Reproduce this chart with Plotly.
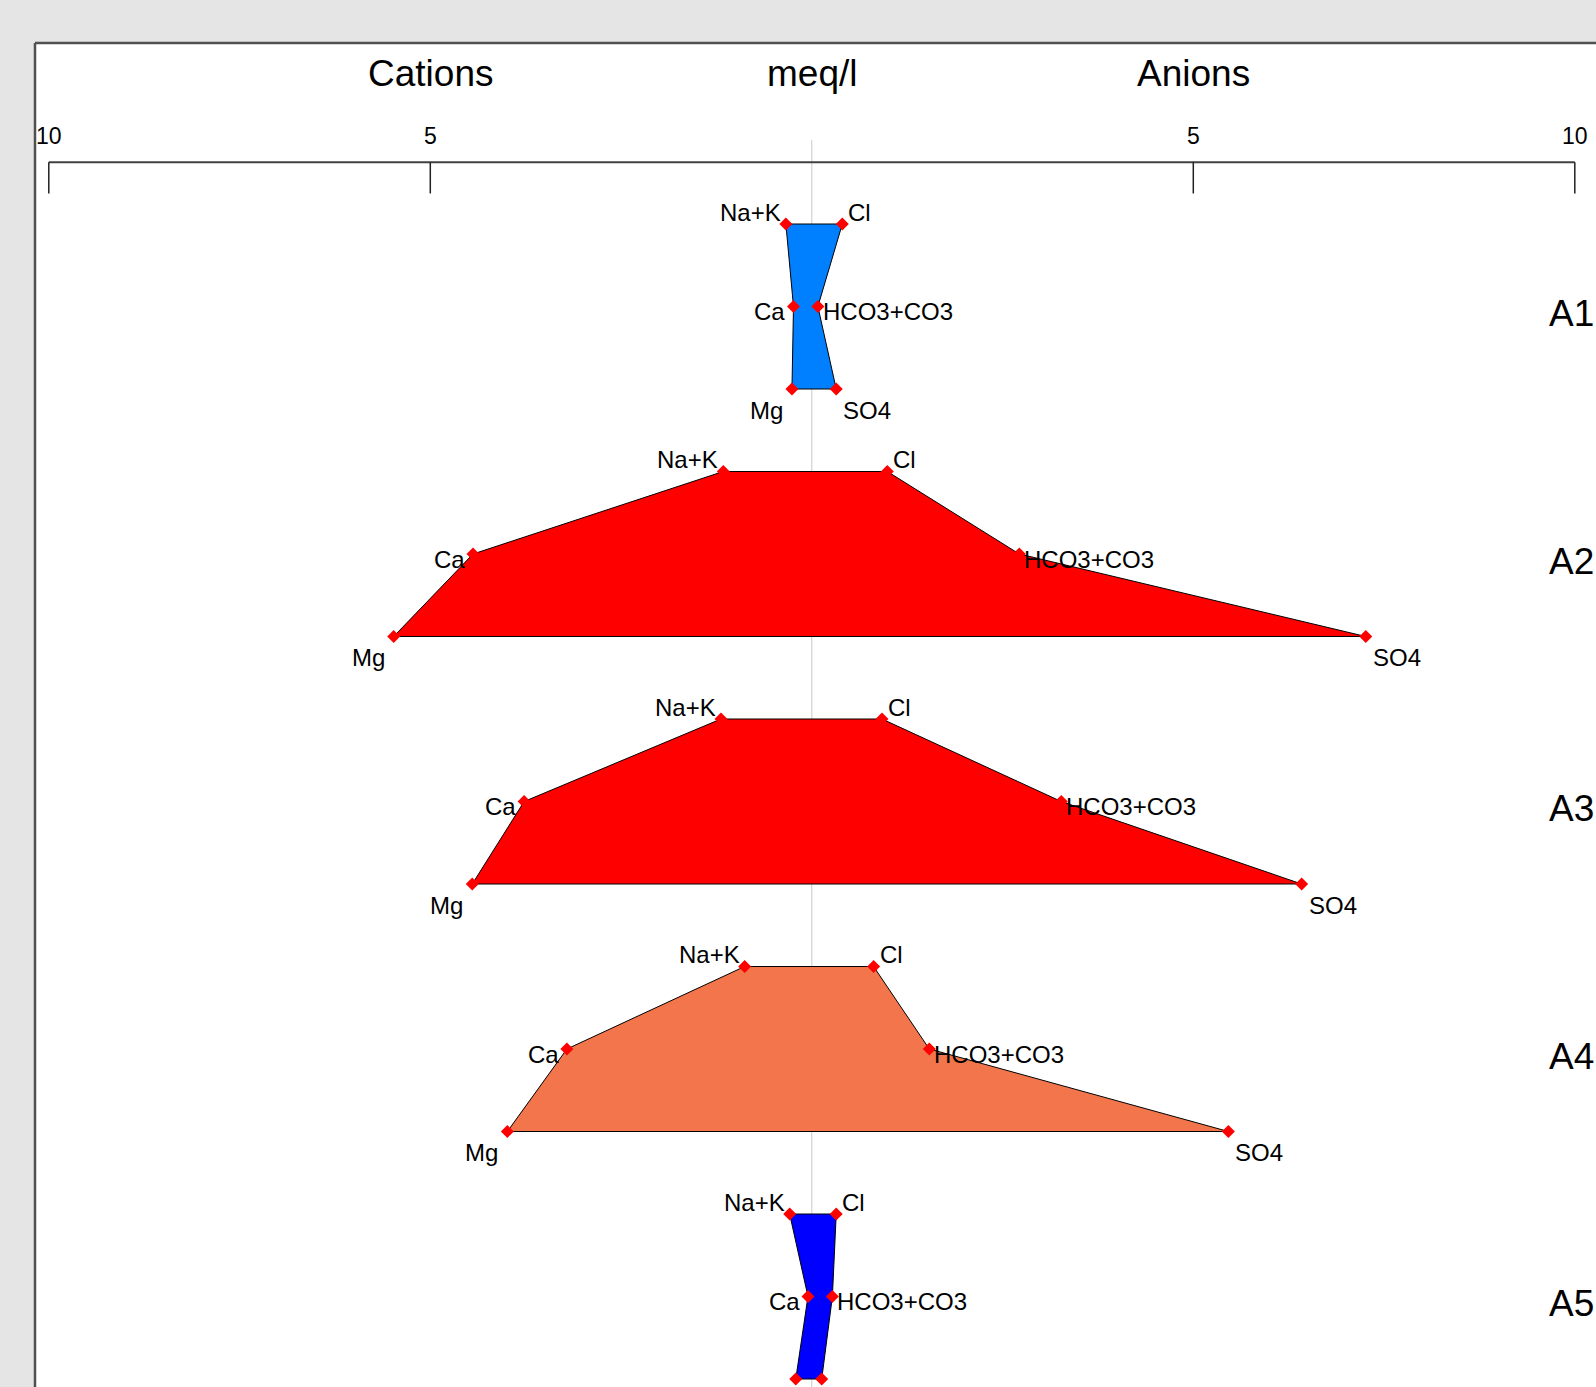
import plotly.graph_objects as go

# ---- data (meq/l) ----
samples = ["A1", "A2", "A3", "A4", "A5"]
na_k = [0.34, 1.16, 1.19, 0.88, 0.29]
ca = [0.24, 4.44, 3.77, 3.21, 0.05]
mg = [0.26, 5.48, 4.45, 3.99, 0.21]
cl = [0.40, 0.99, 0.92, 0.81, 0.32]
hco3 = [0.08, 2.72, 3.27, 1.54, 0.27]
so4 = [0.32, 7.26, 6.42, 5.46, 0.13]
colors = ["#0080ff", "#ff0000", "#ff0000", "#f2754c", "#0000ff"]

tick_vals = [-10, -5, 5, 10]
tick_text = ["10", "5", "5", "10"]
header = ["Cations", "meq/l", "Anions"]
header_pos = [-5, 0, 5]

FONT = "Liberation Sans Narrow, Arial Narrow, Liberation Sans, Arial, sans-serif"
W, H = 1596, 1387
L, T = 35, 43
x0_px, px_per_unit = 811.8, 76.3
row0_px, px_per_row = 224.0, 82.5

x_range = [(L - x0_px) / px_per_unit, (W - x0_px) / px_per_unit]
y_range = [(H - row0_px) / px_per_row, (T - row0_px) / px_per_row]

LAB = 24
BIG = 37

fig = go.Figure()
annotations = []

for i, name in enumerate(samples):
    r = 3 * i
    xs = [-na_k[i], -ca[i], -mg[i], so4[i], hco3[i], cl[i], -na_k[i]]
    ys = [r, r + 1, r + 2, r + 2, r + 1, r, r]
    fig.add_trace(go.Scatter(x=xs, y=ys, mode="lines", fill="toself",
                             fillcolor=colors[i],
                             line=dict(color="black", width=1),
                             hoverinfo="skip", showlegend=False))
    fig.add_trace(go.Scatter(x=xs[:-1], y=ys[:-1], mode="markers",
                             marker=dict(symbol="diamond", size=10, color="#ff0000"),
                             showlegend=False, hoverinfo="skip"))
    lab = [("Na+K", -na_k[i], r, "right", -3, 12),
           ("Ca", -ca[i], r + 1, "right", -6, -5),
           ("Mg", -mg[i], r + 2, "right", -7, -21),
           ("Cl", cl[i], r, "left", 4, 12),
           ("HCO3+CO3", hco3[i], r + 1, "left", 3, -5),
           ("SO4", so4[i], r + 2, "left", 5, -21)]
    for t, x, y, xa, xs_, ys_ in lab:
        annotations.append(dict(x=x, y=y, xref="x", yref="y", text=t,
                                showarrow=False, xanchor=xa, yanchor="middle",
                                xshift=xs_, yshift=ys_,
                                font=dict(family=FONT, size=LAB, color="black")))
    annotations.append(dict(x=1, y=r + 1, xref="paper", yref="y", text=name,
                            showarrow=False, xanchor="right", yanchor="middle",
                            xshift=0, yshift=-7,
                            font=dict(family=FONT, size=BIG, color="black")))

for v, t in zip(tick_vals, tick_text):
    annotations.append(dict(x=v, y=-1.07, xref="x", yref="y", text=t,
                            showarrow=False, xanchor="center", yanchor="middle",
                            font=dict(family=FONT, size=23, color="black")))
for p, t in zip(header_pos, header):
    annotations.append(dict(x=p, y=-1.83, xref="x", yref="y", text=t,
                            showarrow=False, xanchor="center", yanchor="middle",
                            font=dict(family=FONT, size=BIG, color="black")))

shapes = []
# centre line (behind polygons)
shapes.append(dict(type="line", xref="x", yref="y", x0=0, x1=0, y0=-1.02,
                   y1=y_range[0], line=dict(color="#c8c8c8", width=1), layer="below"))
# top axis line and ticks
shapes.append(dict(type="line", xref="x", yref="y", x0=-10, x1=10, y0=-0.748,
                   y1=-0.748, line=dict(color="#404040", width=2)))
for v in tick_vals:
    shapes.append(dict(type="line", xref="x", yref="y", x0=v, x1=v, y0=-0.748,
                       y1=-0.37, line=dict(color="#202020", width=1.5)))
# panel border (top and left)
shapes.append(dict(type="line", xref="paper", yref="paper", x0=0, x1=1, y0=1, y1=1,
                   line=dict(color="#505050", width=2.5)))
shapes.append(dict(type="line", xref="paper", yref="paper", x0=0, x1=0, y0=0, y1=1,
                   line=dict(color="#505050", width=2.5)))

fig.update_layout(
    width=W, height=H, autosize=False,
    margin=dict(l=L, r=0, t=T, b=0, pad=0),
    paper_bgcolor="#e5e5e5", plot_bgcolor="white",
    xaxis=dict(range=x_range, visible=False, fixedrange=True),
    yaxis=dict(range=y_range, visible=False, fixedrange=True),
    annotations=annotations, shapes=shapes, showlegend=False,
)

fig.write_html(
    "out.html",
    config={"displayModeBar": False},
    post_script="document.body.style.margin='0';document.body.style.padding='0';"
                "document.body.style.background='#e5e5e5';document.body.style.overflow='hidden';",
)
